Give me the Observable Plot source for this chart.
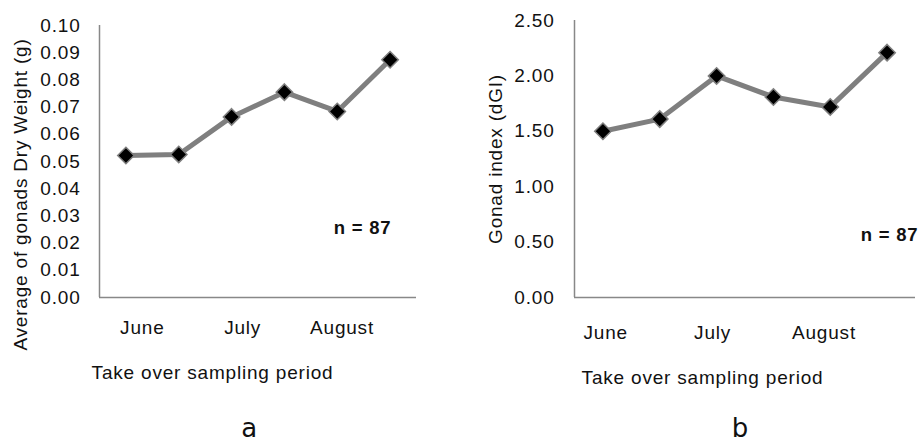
<!DOCTYPE html>
<html>
<head>
<meta charset="utf-8">
<script src="https://cdn.jsdelivr.net/npm/d3@7"></script>
<script src="https://cdn.jsdelivr.net/npm/@observablehq/plot@0.6"></script>
<style>
  html, body { margin: 0; padding: 0; background: #fff; }
  #wrap { display: flex; width: 922px; height: 442px; }
</style>
</head>
<body>
<div id="wrap"></div>
<script>
// ---- data ----
const samples = [1, 2, 3, 4, 5, 6];                 // sampling occasions
const dryWeight = [0.0522, 0.0526, 0.0664, 0.0755, 0.0684, 0.0874]; // panel a (g)
const gonadIndex = [1.50, 1.61, 2.00, 1.81, 1.72, 2.21];            // panel b (dGI)
const ticksA = [0, 0.01, 0.02, 0.03, 0.04, 0.05, 0.06, 0.07, 0.08, 0.09, 0.10];
const ticksB = [0, 0.5, 1.0, 1.5, 2.0, 2.5];
const months = ["June", "July", "August"];
const monthPosA = [1.31, 3.21, 5.09];   // label positions in sample units
const monthPosB = [1.05, 2.93, 4.89];
const labelA = "Average of gonads Dry Weight (g)";
const labelB = "Gonad index (dGI)";
const xTitle = "Take over sampling period";
const nText = "n = 87";

const font = "'Liberation Sans', Arial, sans-serif";
const gray = "#888888";

function panel(o) {
  const data = samples.map((s, i) => ({s, v: o.values[i]}));
  const mdata = months.map((m, i) => ({m, x: o.monthPos[i]}));
  const txt = {textAnchor: "middle", lineAnchor: "middle", fill: "#111"};
  return Plot.plot({
    width: o.width, height: 442,
    marginLeft: o.ml, marginRight: o.mr, marginTop: o.mt, marginBottom: 145,
    style: {fontFamily: font, fontSize: "19px", color: "#111", background: "#fff", letterSpacing: "0.8px", overflow: "visible"},
    x: {domain: [0.5, 6.5], axis: null},
    y: {domain: o.yDomain, ticks: o.ticks, tickFormat: d3.format(".2f"), tickSize: 0, tickPadding: o.pad, label: null},
    marks: [
      Plot.ruleX([0.5], {stroke: gray, strokeWidth: 1.5}),
      Plot.ruleY([0], {stroke: gray, strokeWidth: 1.5}),
      Plot.line(data, {x: "s", y: "v", stroke: "#7f7f7f", strokeWidth: 5}),
      Plot.dot(data, {x: "s", y: "v", symbol: "diamond2", r: 7.4, fill: "#000", stroke: "#7f7f7f", strokeWidth: 1.5}),
      Plot.text(mdata, {...txt, x: "x", text: "m", frameAnchor: "bottom", dy: o.monthDy, fontSize: 19}),
      Plot.text([xTitle], {...txt, text: d => d, frameAnchor: "bottom-left", dx: o.titleDx, dy: o.titleDy, fontSize: 19}),
      Plot.text([o.letter], {...txt, text: d => d, frameAnchor: "bottom-left", dx: o.letterDx, dy: 131, fontSize: 26, fontFamily: "'DejaVu Sans', sans-serif"}),
      Plot.text([o.yLabel], {...txt, text: d => d, frameAnchor: "left", rotate: -90, dx: o.yLabDx, dy: o.yLabDy, fontSize: 19}),
      Plot.text([nText], {...txt, text: d => d, frameAnchor: "bottom-right", dx: o.nDx, dy: o.nDy, fontSize: 18.5, fontWeight: "bold"})
    ]
  });
}

const a = panel({
  values: dryWeight, yDomain: [0, 0.1], ticks: ticksA, yLabel: labelA, letter: "a",
  width: 461, ml: 99, mr: 45, mt: 25, pad: 19,
  monthPos: monthPosA, monthDy: 30, titleDx: 113, titleDy: 75, letterDx: 150,
  yLabDx: -79, yLabDy: 33, nDx: -54, nDy: -69
});
const b = panel({
  values: gonadIndex, yDomain: [0, 2.5], ticks: ticksB, yLabel: labelB, letter: "b",
  width: 461, ml: 113, mr: 7, mt: 20, pad: 20,
  monthPos: monthPosB, monthDy: 35, titleDx: 128, titleDy: 80, letterDx: 166,
  yLabDx: -79, yLabDy: 0, nDx: -26, nDy: -62
});
document.getElementById("wrap").append(a, b);
</script>
</body>
</html>
